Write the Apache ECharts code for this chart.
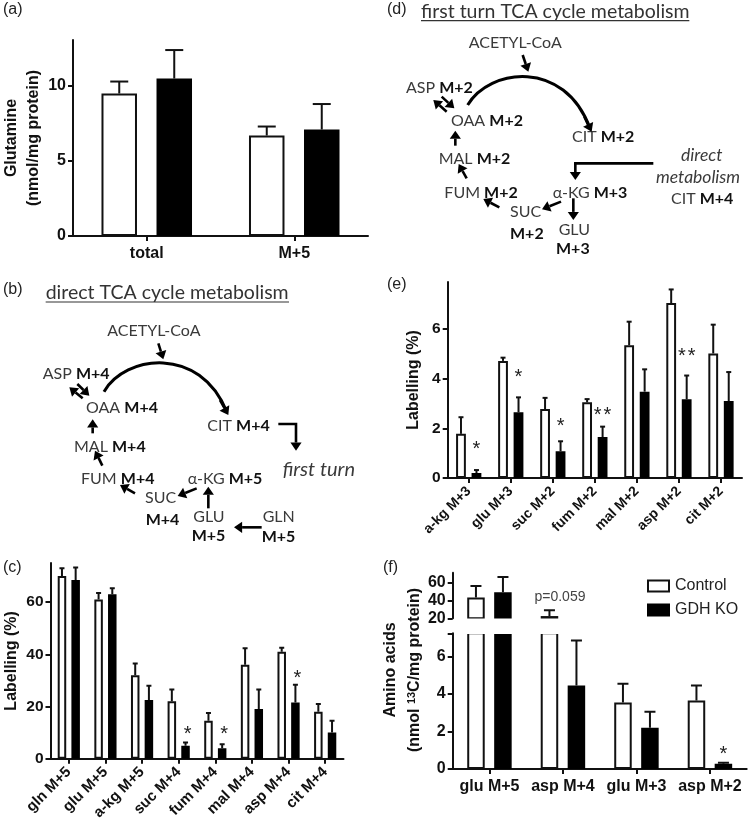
<!DOCTYPE html>
<html><head><meta charset="utf-8">
<style>html,body{margin:0;padding:0;background:#fff}#c{width:752px;height:830px}</style>
<script src="https://cdn.jsdelivr.net/npm/echarts@6/dist/echarts.min.js"></script>
</head><body><div id="c"></div>
<script>
// ---------- DATA ----------
const aCats = ['total', 'M+5'];
const aControl = [9.5, 6.7];
const aKo = [10.5, 7.1];
const aControlTop = [10.3, 7.3];
const aKoTop = [12.4, 8.8];

const cCats = ['gln M+5','glu M+5','a-kg M+5','suc M+4','fum M+4','mal M+4','asp M+4','cit M+4'];
const cControl = [70, 61, 32, 22, 14.5, 36, 41, 18];
const cKo = [68.5, 63, 22.5, 5, 4, 19, 21.5, 10];
const cControlTop = [73, 63.5, 36.5, 26.5, 17.5, 42.3, 42.5, 21];
const cKoTop = [73.3, 65.3, 28, 6.2, 5.5, 26.5, 28.3, 14.5];
const cSig = [null, null, null, ['*',10.6], ['*',10.6], null, ['*',32], null];

const eCats = ['a-kg M+3','glu M+3','suc M+2','fum M+2','mal M+2','asp M+2','cit M+2'];
const eControl = [1.78, 4.72, 2.78, 3.05, 5.35, 7.05, 5.02];
const eKo = [0.2, 2.65, 1.08, 1.65, 3.48, 3.17, 3.1];
const eControlTop = [2.45, 4.85, 3.23, 3.18, 6.3, 7.6, 6.18];
const eKoTop = [0.32, 3.25, 1.48, 2.07, 4.38, 4.13, 4.27];
const eSig = [['*',1.27], ['*',4.16], ['*',2.2], ['**',2.65], null, ['**',5.03], null];

const fCats = ['glu M+5','asp M+4','glu M+3','asp M+2'];
const fControl = [43, 22.5, 3.55, 3.65];
const fKo = [49, 4.45, 2.2, 0.28];
const fControlTop = [56, 29, 4.55, 4.45];
const fKoTop = [66, 6.85, 3.05, 0.33];
const fSig = [null, null, null, ['*',0.96]];

const seriesNames = ['Control', 'GDH KO'];

// ---------- HELPERS ----------
const SANS = '"Liberation Sans", Arial, sans-serif';
const DIAG = 'Lato, "Open Sans", sans-serif';
const INK = '#111';
const grids = [], xAxes = [], yAxes = [], series = [];

function addPanel(p) {
  const g = grids.length;
  grids.push({left:p.x, top:p.y, width:p.w, height:p.h, containLabel:false, outerBoundsMode:'none'});
  xAxes.push({type:'category', gridIndex:g, data:p.cats, show:!p.hideX,
    axisLine:{show:true, onZero:false, lineStyle:{color:INK, width:2}},
    axisTick:{show:true, alignWithLabel:true, length:5, lineStyle:{color:INK, width:2}},
    axisLabel:{color:INK, fontFamily:SANS, fontSize:p.xSize, fontWeight:'bold', interval:0,
      rotate:p.rot||0, margin:p.xMargin, hideOverlap:false}
  });
  const tickVals = p.ticks.concat(p.extraTicks||[]);
  yAxes.push({type:'value', gridIndex:g, min:p.min, max:p.max, splitLine:{show:false},
    name:p.yName||'', nameLocation:'middle', nameGap:p.nameGap,
    nameTextStyle:{color:INK, fontFamily:SANS, fontSize:16, fontWeight:'bold', lineHeight:22},
    axisLine:{show:true, lineStyle:{color:INK, width:2}},
    axisTick:{show:true, length:5, lineStyle:{color:INK, width:2}, customValues:tickVals},
    axisLabel:{color:INK, fontFamily:SANS, fontSize:p.ySize, fontWeight:p.yWeight||'bold', margin:7, customValues:p.ticks}
  });
  return g;
}
function bars(g, p, ctrl, ko) {
  const common = {type:'bar', xAxisIndex:g, yAxisIndex:g, barWidth:p.barW, barGap:p.barGap, silent:true, clip:true, animation:false};
  series.push(Object.assign({name:seriesNames[0], data:ctrl, itemStyle:{color:'#fff', borderColor:INK, borderWidth:p.bw}}, common));
  series.push(Object.assign({name:seriesNames[1], data:ko, itemStyle:{color:'#000', borderColor:'#000', borderWidth:p.bw}}, common));
}
function errs(g, vals, tops, off, cap) {
  const data = [];
  vals.forEach((v,i)=>{ if (v!=null && tops[i]!=null) data.push([i,v,tops[i]]); });
  series.push({type:'custom', xAxisIndex:g, yAxisIndex:g, silent:true, clip:true, animation:false, z:3, data,
    renderItem(params, api){
      const i=api.value(0), a=api.coord([i,api.value(1)]), b=api.coord([i,api.value(2)]);
      const x=a[0]+off, st={stroke:INK, lineWidth:2};
      return {type:'group', children:[
        {type:'line', shape:{x1:x,y1:a[1],x2:x,y2:b[1]}, style:st},
        {type:'line', shape:{x1:x-cap/2,y1:b[1],x2:x+cap/2,y2:b[1]}, style:st}
      ]};
    }});
}
function sigs(g, sig, off) {
  const data = [];
  sig.forEach((s,i)=>{ if (s) data.push([i, s[1], s[0].length]); });
  series.push({type:'custom', xAxisIndex:g, yAxisIndex:g, silent:true, animation:false, z:4, data,
    renderItem(params, api){
      const i=api.value(0), n=api.value(2), c=api.coord([i,api.value(1)]);
      const ch=[];
      for (let k=0;k<n;k++) ch.push({type:'text', x:c[0]+off+(k-(n-1)/2)*9.7, y:c[1]+3,
        style:{text:'*', fill:'#222', fontFamily:SANS, fontSize:20, align:'center', verticalAlign:'middle'}});
      return {type:'group', children:ch};
    }});
}
function standard(p, ctrl, ko, ctrlTop, koTop, sig) {
  const g = addPanel(p);
  bars(g,p,ctrl,ko);
  errs(g,ctrl,ctrlTop,-p.sep/2,p.cap);
  errs(g,ko,koTop,p.sep/2,p.cap);
  if (sig) sigs(g,sig,p.sep/2+(p.sigOff||0));
  return g;
}

// ---------- PANELS ----------
standard({x:73,y:40,w:295,h:196,cats:aCats,min:0,max:13.07,ticks:[0,5,10],xSize:16,ySize:16,xMargin:10,
  yName:'Glutamine\n(nmol/mg protein)',nameGap:24,barW:35.5,barGap:'55%',bw:2,sep:55,cap:18},
  aControl,aKo,aControlTop,aKoTop);

standard({x:50.5,y:563,w:293,h:195.7,cats:cCats,min:0,max:75,ticks:[0,20,40,60],xSize:15,ySize:15.5,xMargin:11,rot:45,
  yName:'Labelling (%)',nameGap:26,barW:8.5,barGap:'61%',bw:2,sep:13.7,cap:5,sigOff:2},
  cControl,cKo,cControlTop,cKoTop,cSig);

standard({x:447.7,y:282,w:294.3,h:196,cats:eCats,min:0,max:7.9,ticks:[0,2,4,6],xSize:14,ySize:15.5,xMargin:11,rot:45,
  yName:'Labelling (%)',nameGap:23,barW:9.8,barGap:'58%',bw:2,sep:15.5,cap:5},
  eControl,eKo,eControlTop,eKoTop,eSig);

// panel f: broken axis, upper segment then lower segment
const LOW_MAX = 7.24, UP_MIN = 20;
const upper = {x:452.7,y:572.7,w:294,h:45.6,cats:fCats,hideX:true,min:UP_MIN,max:70.7,ticks:[20,40,60],xSize:16,ySize:16,barW:17.5,barGap:'54%',bw:2,sep:27,cap:11};
const lower = {x:452.7,y:633.3,w:294,h:135.7,cats:fCats,min:0,max:LOW_MAX,ticks:[0,2,4,6],extraTicks:[LOW_MAX],xSize:16,ySize:16,xMargin:10,barW:17.5,barGap:'54%',bw:2,sep:27,cap:11};
const aboveBreak = a => a.map(v => v>=UP_MIN ? v : null);
const belowBreak = a => a.map(v => v<=LOW_MAX ? v : null);
const gU = standard(upper, aboveBreak(fControl), aboveBreak(fKo), aboveBreak(fControlTop), aboveBreak(fKoTop));
const gL = addPanel(lower);
bars(gL, lower, fControl, fKo);
errs(gL, fControl, belowBreak(fControlTop), -lower.sep/2, lower.cap);
errs(gL, fKo, belowBreak(fKoTop), lower.sep/2, lower.cap);
sigs(gL, fSig, lower.sep/2);
// p=0.059 note, placed on the upper scale above asp M+4
series.push({type:'custom', xAxisIndex:gU, yAxisIndex:gU, silent:true, animation:false, clip:false, z:4, data:[[1,43.3]],
  renderItem(params, api){
    const c = api.coord([api.value(0), api.value(1)]);
    return {type:'text', x:c[0]-3, y:c[1], style:{text:'p=0.059', fill:'#444', fontFamily:SANS, fontSize:14, align:'center', verticalAlign:'middle'}};
  }});

// ---------- GRAPHIC (panel letters, pathway diagrams) ----------
const gfx = [];
function text(x,y,t,o){ o=o||{};
  gfx.push({type:'text', z:50, silent:true, x, y, rotation:o.rot||0,
    style:{text:t, fill:o.fill||'#3a3a3a', fontFamily:o.font||DIAG, fontSize:o.size||16, fontStyle:o.italic?'italic':'normal',
      fontWeight:o.weight||'normal', align:o.align||'left', verticalAlign:'middle',
      rich:{b:{fontWeight:'bold', fill:'#111', fontFamily:o.font||DIAG, fontSize:o.size||16}}}});
}
function arrow(pts, w, head){ w=w||2.6; head=head||9;
  const n=pts.length, [ax,ay]=pts[n-2], [bx,by]=pts[n-1], ang=Math.atan2(by-ay,bx-ax);
  const sx=bx-Math.cos(ang)*head*0.9, sy=by-Math.sin(ang)*head*0.9;
  const nx=-Math.sin(ang)*head*0.62, ny=Math.cos(ang)*head*0.62;
  const line=pts.slice(0,n-1).concat([[sx,sy]]);
  gfx.push({type:'polyline', z:50, silent:true, shape:{points:line}, style:{stroke:'#000', lineWidth:w, fill:null}});
  gfx.push({type:'polygon', z:50, silent:true, shape:{points:[[bx,by],[sx+nx,sy+ny],[sx-nx,sy-ny]]}, style:{fill:'#000'}});
}
function curve(p){
  gfx.push({type:'bezierCurve', z:50, silent:true, shape:{x1:p[0][0],y1:p[0][1],cpx1:p[1][0],cpy1:p[1][1],cpx2:p[2][0],cpy2:p[2][1],x2:p[3][0],y2:p[3][1]}, style:{stroke:'#000', lineWidth:3, fill:null}});
}
const Z=(ox,oy)=>(x,y)=>[ox+x/3, oy+y/3];

[['(a)',3,10],['(b)',3,290],['(c)',3,568],['(d)',387,10],['(e)',387,285],['(f)',383,568]]
  .forEach(([t,x,y])=>text(x,y,t,{font:SANS,size:16,fill:'#222'}));

function diagram(ox,oy,title,labels,arrows,arc){
  const z=Z(ox,oy);
  const [tx,ty]=z(title[1],title[2]);
  text(tx,ty,title[0],{size:title[4],fill:'#333'});
  const [u1,uy]=z(title[1],title[5]), [u2]=z(title[3],0);
  gfx.push({type:'line', z:50, silent:true, shape:{x1:u1,y1:uy,x2:u2,y2:uy}, style:{stroke:'#333', lineWidth:1.2}});
  labels.forEach(l=>{ const [x,y]=z(l[1],l[2]); text(x,y,l[0],l[3]||{}); });
  curve(arc.map(a=>z(a[0],a[1])));
  arrows.forEach(a=>{ arrow(a.map(q=>z(q[0],q[1]))); });
}
const it={italic:true,size:17.5};
diagram(0,280,['direct TCA cycle metabolism',137,38,867,19.5,66],[
  ['ACETYL-CoA',322,152],['ASP {b|M+4}',128,283],['OAA {b|M+4}',258,383],['CIT {b|M+4}',622,438],
  ['MAL {b|M+4}',222,500],['FUM {b|M+4}',243,597],['α-KG {b|M+5}',563,597],['SUC',435,655],['{b|M+4}',437,720],
  ['GLU',580,710],['{b|M+5}',575,768],['GLN',788,710],['{b|M+5}',785,770],['first turn',848,570,{italic:true,size:20}]
],[
  [[475,190],[490,238]],[[232,312],[268,347]],[[248,355],[208,322]],[[278,460],[278,418]],[[307,557],[285,512]],
  [[405,640],[360,615]],[[590,625],[533,648]],[[625,685],[625,620]],[[785,742],[702,742]],
  [[835,432],[888,432],[888,512]],[[660,360],[685,405]]
],[[312,335],[375,225],[600,195],[680,395]]);
diagram(376,0,['first turn TCA cycle metabolism',135,35,940,19.5,62],[
  ['ACETYL-CoA',278,130],['ASP {b|M+2}',90,265],['OAA {b|M+2}',225,362],['CIT {b|M+2}',588,412],
  ['MAL {b|M+2}',188,478],['FUM {b|M+2}',205,578],['α-KG {b|M+3}',530,578],['SUC',402,635],['{b|M+2}',402,703],
  ['GLU',548,690],['{b|M+3}',540,748],['direct',915,465,it],['metabolism',840,532,it],['CIT {b|M+4}',885,597]
],[
  [[440,165],[457,215]],[[197,290],[235,325]],[[212,335],[172,300]],[[238,437],[238,392]],[[272,535],[248,492]],
  [[370,622],[322,597]],[[555,605],[498,628]],[[592,595],[592,660]],[[832,490],[598,490],[598,540]],[[625,350],[647,395]]
],[[275,315],[340,205],[565,175],[642,385]]);

// break in panel f: hide bar edges between the axis segments
gfx.push({type:'rect', z:40, silent:true, shape:{x:462,y:618.5,width:150,height:15.5}, style:{fill:'#fff'}});
// y title of panel f spans both axis segments
text(391,670,'Amino acids',{font:SANS,size:16,weight:'bold',fill:INK,rot:Math.PI/2,align:'center'});
gfx.push({type:'text', z:50, silent:true, x:415, y:670, rotation:Math.PI/2,
  style:{text:'(nmol {s|13}C/mg protein)', fill:INK, fontFamily:SANS, fontSize:16, fontWeight:'bold', align:'center', verticalAlign:'middle',
    rich:{s:{fontSize:11, fontWeight:'bold', fontFamily:SANS, fill:INK, verticalAlign:'top', padding:[0,0,6,0]}}}});

const chart = echarts.init(document.getElementById('c'), null, {renderer:'canvas'});
chart.setOption({
  animation:false, backgroundColor:'#fff',
  grid:grids, xAxis:xAxes, yAxis:yAxes, series,
  legend:{show:true, data:seriesNames, icon:'rect', orient:'vertical', left:642, top:573, itemWidth:21, itemHeight:11, itemGap:8, selectedMode:false,
    textStyle:{fontFamily:SANS, fontSize:16, color:'#222', padding:[0,0,0,1]}},
  graphic:{elements:gfx}
});
</script></body></html>
